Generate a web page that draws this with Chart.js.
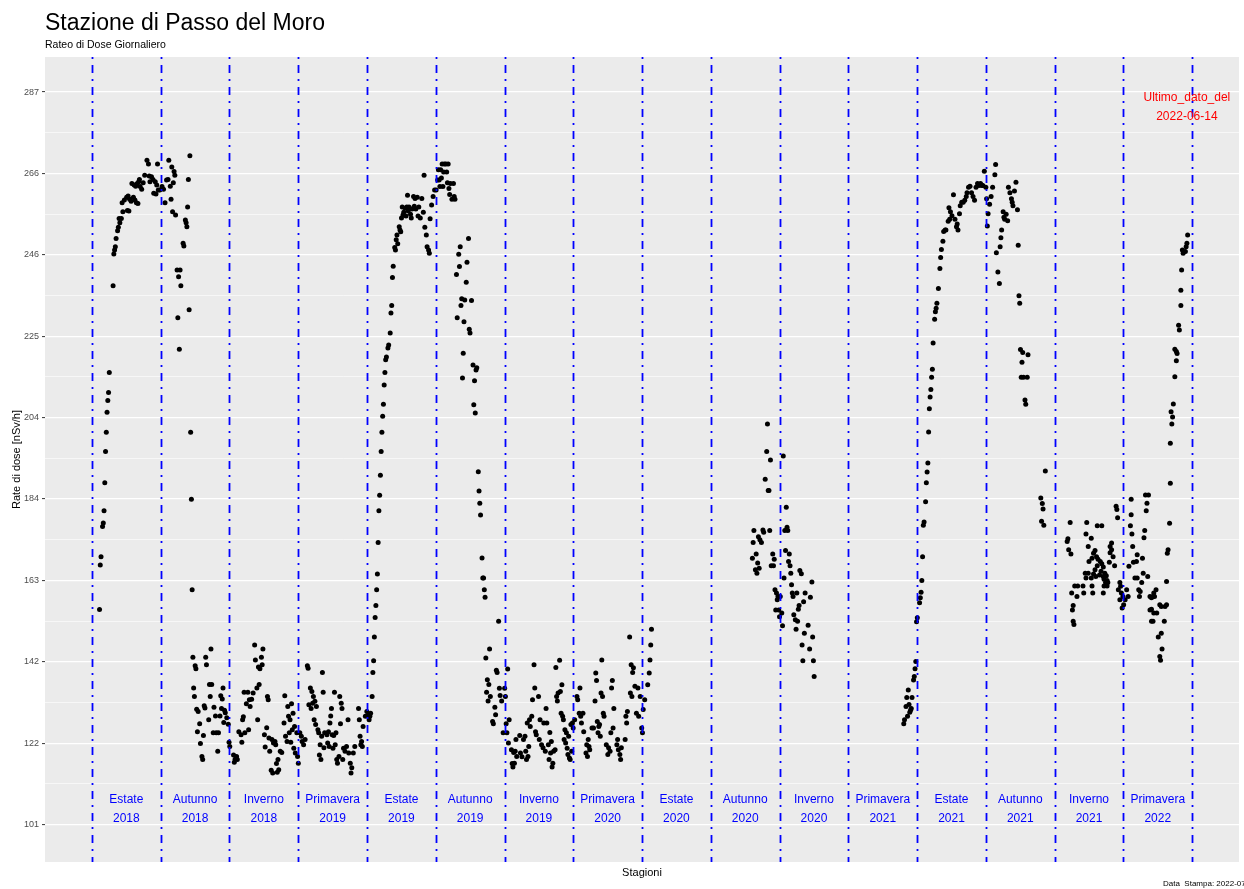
<!DOCTYPE html>
<html>
<head>
<meta charset="utf-8">
<title>Stazione di Passo del Moro</title>
<script src="https://cdn.jsdelivr.net/npm/chart.js@4.4.1/dist/chart.umd.min.js"></script>
<style>
  body { margin: 0; background: #fff; }
  canvas { display: block; }
</style>
</head>
<body>
<canvas id="grafico" width="1244" height="889"></canvas>
<script>
// giorni dal 2018-06-21 e rateo di dose [nSv/h]
const estate2018 = [[10,155.6],[11,166.9],[12,169.0],[14,176.7],[15,177.6],[16,180.7],[17,187.8],[18,195.7],[19,200.6],[20,205.7],[21,208.7],[22,210.7],[23,215.8],[28,237.8],[29,245.9],[30,246.9],[31,247.7],[32,249.8],[34,251.8],[35,252.7],[36,254.9],[37,253.8],[39,254.9],[40,258.9],[41,256.6],[43,259.6],[46,260.3],[47,256.9],[48,260.6],[49,256.8],[50,259.8],[52,259.3],[53,263.8],[55,260.3],[56,263.4],[57,259.6],[58,263.1],[59,258.9],[60,263.8],[61,258.7],[62,264.2],[63,264.8],[64,263.0],[66,262.3],[68,264.0],[70,265.9],[73,269.7],[75,268.7],[76,265.7],[77,264.2],[79,265.5],[81,264.8],[82,261.3],[84,264.2],[85,261.1],[86,263.4],[87,268.7],[88,262.1],[90,262.1]];
const autunno2018 = [[93,263.0],[95,262.3],[97,258.9],[99,264.7],[101,264.8],[102,269.7],[104,263.1],[105,259.8],[106,268.0],[107,256.6],[108,264.0],[109,266.8],[110,265.9],[111,255.8],[113,241.8],[114,229.7],[115,240.1],[116,221.7],[117,241.8],[118,237.8],[121,248.6],[122,247.9],[124,254.5],[125,253.8],[126,252.8],[127,257.8],[128,264.8],[129,231.7],[130,270.8],[131,200.6],[132,183.6],[133,160.6],[134,143.5],[135,135.7],[136,133.5],[137,141.3],[138,140.6],[139,130.3],[140,124.6],[141,129.7],[143,126.6],[144,121.6],[146,118.3],[147,117.5],[148,123.6],[149,131.2],[150,130.6],[151,143.5],[152,141.6],[155,127.6],[156,136.6],[157,133.5],[158,145.6],[159,136.6],[161,124.3],[162,130.8],[164,128.6],[165,124.3],[167,119.6],[168,124.3],[170,128.6],[171,133.7],[172,130.5],[173,132.9],[174,135.7],[175,126.9],[176,130.0],[177,129.4],[179,128.1],[181,126.5],[182,121.9]];
const inverno2018 = [[183,120.8],[188,118.7],[189,116.8],[190,117.6],[192,118.3],[193,117.5],[195,124.6],[198,123.8],[199,121.9],[200,127.6],[201,128.4],[202,134.6],[203,124.3],[205,131.7],[207,134.6],[208,125.1],[209,132.7],[210,131.0],[212,132.8],[214,134.4],[216,146.6],[217,142.8],[219,135.7],[220,127.6],[221,141.0],[222,136.6],[223,140.6],[225,143.5],[226,141.6],[227,145.6],[229,123.8],[230,120.7],[232,125.6],[233,133.5],[234,132.7],[235,123.0],[236,119.6],[238,114.8],[239,122.6],[240,114.1],[241,121.7],[243,122.1],[244,121.3],[245,116.5],[246,114.3],[247,117.5],[248,114.9],[250,119.6],[252,119.3],[255,126.8],[256,133.7],[257,123.4],[259,122.1],[260,131.0],[261,128.5],[262,124.3],[263,127.6],[264,121.9],[265,131.7],[266,125.1],[267,129.3],[268,120.4],[269,125.9],[270,119.2],[272,124.3],[273,118.3]];
const primavera2019 = [[274,116.6],[276,124.3],[278,123.4],[279,122.1],[281,121.3],[283,122.6],[286,141.3],[287,140.7],[288,131.4],[290,135.7],[291,130.5],[292,134.8],[293,131.8],[294,133.5],[295,127.6],[296,132.3],[297,126.4],[298,131.0],[300,125.1],[301,124.3],[302,118.7],[303,121.3],[304,117.5],[305,123.4],[306,139.6],[307,134.6],[308,120.5],[309,124.3],[312,123.8],[313,121.7],[314,124.6],[315,120.8],[316,126.8],[317,128.6],[318,130.5],[319,123.8],[320,120.4],[321,123.6],[322,134.6],[323,121.3],[324,124.3],[325,117.5],[326,116.6],[328,118.3],[329,133.5],[330,126.6],[331,131.8],[332,130.5],[333,117.5],[334,120.4],[336,119.6],[338,120.8],[340,127.6],[341,119.2],[343,116.6],[344,114.1],[345,115.4],[347,119.2],[349,120.8],[354,130.5],[355,127.6],[356,123.4],[357,121.3],[358,122.1],[359,120.8],[360,125.9],[363,128.5],[365,129.7]];
const estate2019 = [[367,128.8],[368,127.6],[369,128.5],[370,129.3],[372,133.5],[373,139.6],[374,142.6],[375,148.6],[376,153.6],[377,156.6],[378,160.6],[379,164.6],[380,172.6],[381,180.7],[382,184.6],[383,189.7],[384,195.7],[385,200.6],[386,204.7],[387,207.7],[388,212.6],[389,215.8],[390,219.0],[391,219.7],[393,222.0],[394,222.8],[396,225.8],[397,230.9],[398,232.8],[399,239.9],[400,242.8],[402,247.5],[403,246.9],[404,249.5],[405,250.7],[406,248.5],[408,252.8],[409,252.0],[410,251.5],[411,255.0],[412,257.8],[413,255.8],[414,256.5],[416,257.5],[417,255.5],[418,257.8],[419,260.8],[420,256.8],[421,257.8],[423,256.0],[424,255.0],[425,257.3],[427,260.5],[428,258.0],[429,260.0],[430,257.3],[432,260.3],[433,255.5],[434,257.8],[436,255.0],[438,260.0],[440,256.5],[441,265.9],[442,252.7],[444,250.7],[445,247.7],[447,246.9],[448,246.1],[449,254.8],[451,258.3],[453,260.5],[455,262.1]];
const autunno2019 = [[457,262.1],[459,264.7],[460,267.3],[461,264.7],[462,263.0],[463,267.3],[464,265.2],[465,268.7],[466,263.0],[467,266.7],[468,268.7],[470,268.7],[471,266.7],[472,264.0],[473,268.7],[474,262.5],[475,261.0],[476,263.8],[478,259.8],[480,263.8],[481,260.5],[482,259.8],[484,240.7],[485,229.7],[487,245.8],[488,242.7],[489,247.7],[490,232.8],[491,234.5],[492,214.4],[493,220.7],[494,228.7],[495,234.2],[497,238.7],[498,243.8],[500,249.8],[501,226.8],[502,225.8],[504,234.1],[506,217.7],[507,207.6],[508,213.7],[509,205.5],[510,216.4],[511,217.0],[513,190.6],[514,185.7],[515,182.6],[516,179.6],[518,168.7],[519,163.6],[520,163.6],[521,160.6],[522,158.7],[523,143.3],[524,134.6],[525,137.8],[526,132.4],[527,136.6],[528,145.6],[529,133.5],[532,127.2],[533,126.6],[535,130.8],[536,128.9],[537,140.2],[538,139.6],[540,152.6],[541,135.6],[542,133.8],[544,132.4],[546,124.3]];
const inverno2019 = [[548,135.6],[549,133.5],[550,126.6],[551,124.3],[552,140.5],[553,121.7],[554,127.6],[557,120.0],[558,116.5],[559,115.6],[560,119.3],[561,116.6],[562,119.6],[563,122.6],[564,118.3],[568,123.6],[569,119.2],[571,118.2],[573,122.6],[575,123.4],[576,119.6],[577,117.5],[578,126.8],[579,118.3],[580,120.8],[581,127.6],[582,125.9],[584,128.5],[585,132.7],[587,141.6],[588,135.7],[589,124.6],[590,123.8],[593,133.5],[594,122.6],[595,127.6],[597,121.3],[599,120.5],[600,126.8],[602,119.6],[603,130.5],[604,126.8],[606,121.3],[607,117.5],[608,124.4],[609,119.2],[610,122.1],[611,115.6],[612,116.6],[613,119.6],[615,120.0],[616,140.9],[617,133.5],[618,132.4],[619,134.4],[621,142.7],[622,134.8],[623,129.3],[624,136.5],[625,128.5],[626,127.6],[627,122.6],[628,125.1],[629,121.7],[630,124.3],[631,120.4],[632,118.8],[633,123.4],[634,117.9],[635,117.5],[636,126.4],[637,119.6],[638,126.8],[639,125.5]];
const primavera2020 = [[641,127.6],[644,133.5],[645,132.7],[647,129.3],[648,135.7],[649,128.5],[650,126.8],[652,129.3],[653,124.6],[656,119.2],[657,121.3],[658,118.3],[659,122.6],[660,120.8],[661,120.0],[664,125.5],[666,125.5],[668,132.4],[669,139.5],[670,137.6],[671,127.2],[672,124.3],[673,125.9],[674,126.4],[675,123.4],[676,134.4],[677,142.8],[678,133.5],[679,129.3],[680,128.5],[683,121.3],[685,118.8],[686,120.5],[688,119.6],[689,124.3],[690,135.7],[691,137.6],[692,125.5],[693,130.5],[697,121.3],[698,122.6],[699,120.0],[701,118.8],[702,117.5],[703,120.5],[708,122.6],[709,128.5],[710,126.8],[711,129.7],[714,148.6],[715,134.4],[716,141.6],[717,133.5],[718,139.6],[719,140.8],[721,136.1],[723,129.3],[725,135.7],[726,128.5],[728,133.5],[730,125.5]];
const estate2020 = [[731,124.3],[732,130.2],[734,132.7],[738,136.5],[740,139.5],[741,142.8],[742,146.6],[743,150.6]];
const autunno2020 = [[877,168.6],[878,172.6],[879,175.7],[881,165.7],[882,169.7],[883,164.8],[884,167.4],[885,174.1],[886,166.1],[887,173.3],[889,172.6],[891,175.8],[892,175.2],[894,188.7],[896,195.7],[897,202.7],[898,185.8],[899,185.8],[900,175.7],[901,193.6],[902,166.7],[904,169.7],[905,166.7],[906,168.4],[907,160.6],[908,155.5],[909,159.8],[910,158.1],[911,158.9],[912,155.5]];
const inverno2020 = [[913,153.8],[914,158.9],[916,154.7],[917,151.5],[918,194.6],[919,163.6],[920,175.7],[921,170.6],[922,181.6],[923,176.5],[924,175.7],[925,167.8],[926,169.7],[927,166.7],[928,164.8],[929,161.9],[930,159.8],[931,158.9],[932,154.3],[934,153.0],[935,150.6],[936,159.8],[937,152.6],[938,155.7],[939,156.6],[940,165.5],[942,164.7],[943,146.6],[944,142.6],[945,157.6],[946,149.6],[947,159.8],[951,151.6],[953,145.6],[954,158.7],[956,162.6],[957,148.6],[958,142.6],[959,138.6]];
const primavera2021 = [[1078,126.6],[1079,127.6],[1081,131.0],[1082,133.3],[1083,128.5],[1084,135.2],[1085,131.5],[1086,129.5],[1087,130.0],[1088,130.5],[1089,133.3],[1091,137.7],[1092,138.6],[1093,140.6],[1094,142.4],[1095,152.5]];
const estate2021 = [[1096,153.5],[1099,157.3],[1100,158.6],[1101,160.0],[1102,163.0],[1103,169.0],[1104,177.0],[1105,177.8],[1107,183.0],[1108,187.8],[1109,190.5],[1110,192.8],[1111,200.7],[1112,206.6],[1113,209.6],[1114,211.5],[1115,214.6],[1116,216.6],[1117,223.3],[1119,229.3],[1120,231.2],[1121,232.1],[1122,233.4],[1124,237.1],[1126,242.2],[1127,245.0],[1128,247.0],[1130,249.1],[1131,251.6],[1133,252.0],[1134,252.0],[1137,254.2],[1138,257.6],[1139,254.7],[1140,256.6],[1142,255.6],[1144,260.9],[1146,254.7],[1148,252.8],[1149,253.5],[1150,252.0],[1152,256.1],[1153,258.1],[1155,259.0],[1157,259.0],[1159,259.5],[1161,260.5],[1162,261.4],[1164,262.8],[1166,263.1],[1168,261.4],[1170,260.5],[1172,259.5],[1174,262.8],[1176,263.8],[1178,263.3],[1180,263.8],[1182,263.3],[1183,263.3],[1185,266.9],[1187,262.8]];
const autunno2021 = [[1188,259.9],[1189,253.0],[1190,256.1],[1192,258.5],[1194,260.5],[1196,262.8],[1199,266.0],[1200,268.6],[1201,246.2],[1203,241.3],[1205,238.4],[1206,247.7],[1207,250.0],[1208,252.0],[1210,256.6],[1211,255.2],[1212,254.7],[1214,256.0],[1216,254.3],[1217,262.8],[1219,261.4],[1221,259.9],[1222,259.0],[1223,258.1],[1225,261.9],[1227,264.1],[1229,257.1],[1230,248.1],[1231,235.3],[1232,233.4],[1233,221.6],[1234,214.6],[1235,218.4],[1236,220.9],[1237,214.6],[1239,208.8],[1240,207.7],[1242,214.6],[1243,220.3],[1260,183.9],[1261,178.0],[1262,182.5],[1263,181.1],[1264,177.0],[1266,190.8]];
const inverno2021 = [[1295,172.9],[1296,173.6],[1297,170.8],[1299,177.7],[1300,169.7],[1301,159.8],[1302,155.5],[1303,156.6],[1303,152.6],[1305,161.6],[1304,151.8],[1308,158.9],[1309,161.6],[1316,161.6],[1317,159.8],[1319,164.8],[1320,163.6],[1321,177.7],[1320,174.8],[1323,164.8],[1323,171.6],[1324,167.8],[1327,173.7],[1328,168.6],[1327,163.6],[1328,161.6],[1329,159.8],[1330,164.6],[1330,169.9],[1332,170.6],[1332,165.7],[1333,164.0],[1334,169.0],[1335,166.7],[1335,176.9],[1336,168.4],[1338,164.4],[1339,167.8],[1340,165.3],[1341,176.9],[1341,167.2],[1343,166.4],[1343,164.0],[1344,163.3],[1344,161.6],[1343,159.8],[1345,164.8],[1346,162.5],[1347,164.2],[1348,163.0],[1349,162.5],[1348,161.6],[1352,171.6],[1354,172.5],[1354,170.8],[1352,170.0],[1356,169.0],[1351,167.6],[1358,166.7],[1360,181.8],[1361,181.0],[1362,178.9],[1365,162.5],[1366,161.5],[1363,160.6],[1367,159.8],[1369,158.9],[1365,158.1],[1368,156.0]];
const primavera2022 = [[1370,156.8],[1372,158.1],[1374,160.6],[1376,158.9],[1377,166.6],[1379,176.9],[1380,183.6],[1380,179.7],[1381,174.8],[1382,171.6],[1383,167.6],[1385,163.6],[1387,167.8],[1388,169.5],[1388,163.6],[1390,160.6],[1391,158.9],[1392,160.2],[1394,162.5],[1395,168.6],[1396,164.8],[1397,173.8],[1398,175.7],[1399,184.7],[1400,180.7],[1401,182.6],[1402,164.0],[1403,184.7],[1405,158.9],[1405,155.5],[1407,158.6],[1407,155.7],[1407,152.6],[1409,158.9],[1409,152.6],[1410,159.8],[1410,154.7],[1411,158.9],[1413,160.6],[1414,154.7],[1416,148.6],[1418,156.8],[1418,143.7],[1419,142.7],[1420,156.4],[1420,149.6],[1421,145.6],[1424,152.6],[1425,156.4],[1427,156.8],[1427,162.7],[1428,169.9],[1429,170.8],[1431,177.5],[1432,187.7],[1432,197.8],[1433,205.8],[1434,202.7],[1435,204.5],[1436,207.8],[1438,214.7],[1438,221.7],[1440,218.8],[1440,221.1],[1441,220.6],[1443,227.8],[1444,226.6],[1446,232.8],[1446,236.7],[1447,241.8],[1448,246.9],[1449,246.1],[1452,246.5],[1453,247.7],[1454,248.6],[1455,250.7]];

// stagioni: inizio in giorni dal 2018-06-21
const inizioStagioni = [0, 91.3, 182.6, 273.9, 365.3, 456.6, 547.9, 639.2, 730.5, 821.8, 913.1, 1004.4, 1095.8, 1187.1, 1278.4, 1369.7, 1461];
const nomiStagioni = ["Estate", "Autunno", "Inverno", "Primavera", "Estate", "Autunno", "Inverno", "Primavera", "Estate", "Autunno", "Inverno", "Primavera", "Estate", "Autunno", "Inverno", "Primavera"];
const anniStagioni = ["2018", "2018", "2018", "2019", "2019", "2019", "2019", "2020", "2020", "2020", "2020", "2021", "2021", "2021", "2021", "2022"];

const tickValori = [101, 121.67, 142.33, 163, 183.67, 204.33, 225, 245.67, 266.33, 287];
const tickEtichette = ["101", "122", "142", "163", "184", "204", "225", "246", "266", "287"];

const ultimoGiorno = 1454;
const ultimoDato = "2022-06-14";

const FONT = "'Liberation Sans', Arial, sans-serif";

const tutti = [].concat(estate2018, autunno2018, inverno2018, primavera2019, estate2019, autunno2019,
    inverno2019, primavera2020, estate2020, autunno2020, inverno2020, primavera2021, estate2021,
    autunno2021, inverno2021, primavera2022);
const punti = tutti.map(p => ({ x: p[0], y: p[1] }));

// tick principali + secondari a metà
const tuttiTick = [];
tickValori.forEach((v, i) => {
    tuttiTick.push(v);
    if (i < tickValori.length - 1) tuttiTick.push((v + tickValori[i + 1]) / 2);
});
const isMaggiore = v => tickValori.indexOf(v) >= 0;

const sfondo = {
    id: "sfondo",
    beforeDraw(chart) {
        const { ctx, chartArea: a } = chart;
        ctx.save();
        ctx.fillStyle = "#EBEBEB";
        ctx.fillRect(a.left, a.top, a.right - a.left, a.bottom - a.top);
        ctx.restore();
    }
};

const stagioni = {
    id: "stagioni",
    afterDatasetsDraw(chart) {
        const { ctx, chartArea: a, scales: { x, y } } = chart;
        ctx.save();
        ctx.beginPath();
        ctx.rect(a.left, a.top, a.right - a.left, a.bottom - a.top);
        ctx.clip();
        ctx.strokeStyle = "#0000FF";
        ctx.lineWidth = 1.8;
        ctx.setLineDash([2, 6, 8, 6]);
        inizioStagioni.forEach(g => {
            const px = Math.round(x.getPixelForValue(g)) + 0.5;
            ctx.beginPath();
            ctx.moveTo(px, a.top);
            ctx.lineTo(px, a.bottom);
            ctx.stroke();
        });
        ctx.setLineDash([]);
        ctx.fillStyle = "#0000FF";
        ctx.font = "12px " + FONT;
        ctx.textAlign = "center";
        ctx.textBaseline = "middle";
        nomiStagioni.forEach((n, i) => {
            const cx = x.getPixelForValue((inizioStagioni[i] + inizioStagioni[i + 1]) / 2);
            ctx.fillText(n, cx, y.getPixelForValue(107.3));
            ctx.fillText(anniStagioni[i], cx, y.getPixelForValue(102.5));
        });
        ctx.fillStyle = "#FF0000";
        const ux = x.getPixelForValue(ultimoGiorno);
        ctx.fillText("Ultimo_dato_del", ux, y.getPixelForValue(285.5));
        ctx.fillText(ultimoDato, ux, y.getPixelForValue(280.7));
        ctx.restore();
    }
};

const testi = {
    id: "testi",
    afterDraw(chart) {
        const { ctx, chartArea: a } = chart;
        ctx.save();
        ctx.fillStyle = "#000";
        ctx.textAlign = "left";
        ctx.textBaseline = "alphabetic";
        ctx.font = "23px " + FONT;
        ctx.fillText("Stazione di Passo del Moro", a.left, 30);
        ctx.font = "10.5px " + FONT;
        ctx.fillText("Rateo di Dose Giornaliero", a.left, 48);
        ctx.font = "11px " + FONT;
        ctx.textAlign = "center";
        ctx.fillText("Stagioni", (a.left + a.right) / 2, 876);
        ctx.save();
        ctx.translate(20, (a.top + a.bottom) / 2);
        ctx.rotate(-Math.PI / 2);
        ctx.fillText("Rate di dose [nSv/h]", 0, 0);
        ctx.restore();
        ctx.font = "8px " + FONT;
        ctx.textAlign = "left";
        ctx.fillText("Data  Stampa: 2022-07-", 1163, 886);
        ctx.restore();
    }
};

new Chart(document.getElementById("grafico"), {
    type: "scatter",
    data: {
        datasets: [{
            data: punti,
            backgroundColor: "#000000",
            borderWidth: 0,
            pointRadius: 2.5,
            pointHoverRadius: 2.5
        }]
    },
    options: {
        responsive: false,
        animation: false,
        events: [],
        layout: { padding: { top: 57, right: 5, bottom: 27, left: 0 } },
        plugins: { legend: { display: false }, tooltip: { enabled: false }, title: { display: false } },
        scales: {
            x: {
                type: "linear",
                min: -62.4,
                max: 1523.2,
                ticks: { display: false },
                grid: { display: false, drawTicks: false },
                border: { display: false },
                afterFit(s) { s.height = 0; }
            },
            y: {
                type: "linear",
                min: 91.5,
                max: 295.9,
                afterBuildTicks(s) { s.ticks = tuttiTick.map(v => ({ value: v })); },
                afterFit(s) { s.width = 45; },
                ticks: {
                    autoSkip: false,
                    padding: 3,
                    color: "#4D4D4D",
                    font: { family: FONT, size: 9 },
                    callback(v) {
                        const i = tickValori.indexOf(v);
                        return i >= 0 ? tickEtichette[i] : "";
                    }
                },
                grid: {
                    color: "#FFFFFF",
                    lineWidth: c => (c.tick && isMaggiore(c.tick.value)) ? 1.2 : 0.6,
                    tickLength: 3,
                    tickWidth: 1,
                    tickColor: c => (c.tick && isMaggiore(c.tick.value)) ? "#333333" : "rgba(0,0,0,0)"
                },
                border: { display: false }
            }
        }
    },
    plugins: [sfondo, stagioni, testi]
});
</script>
</body>
</html>
